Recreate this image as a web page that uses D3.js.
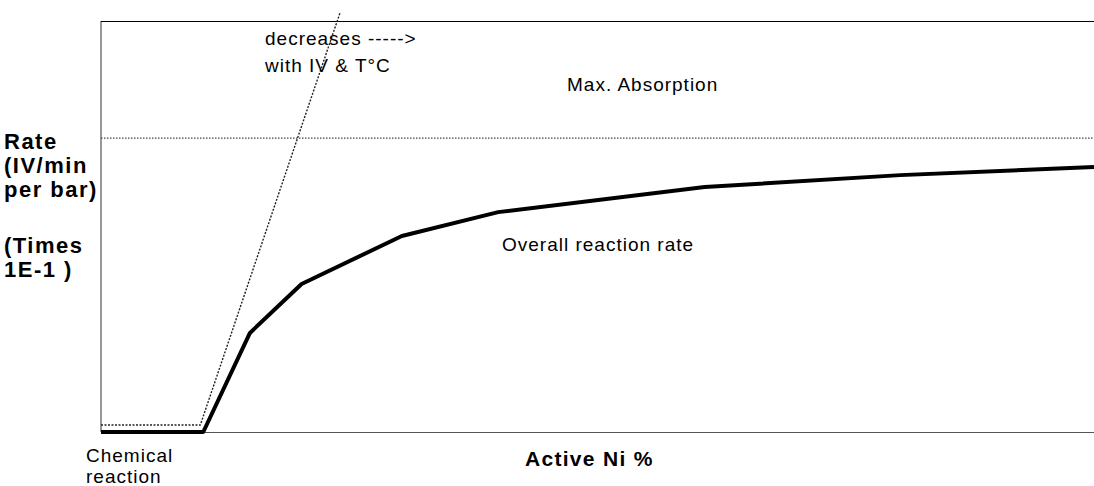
<!DOCTYPE html>
<html>
<head>
    <script src="https://d3js.org/d3.v7.min.js"></script>
    <style>
        body { margin: 0; background: #fff; }
        text { font-family: "Liberation Sans", Arial, sans-serif; fill: #000; }
    </style>
</head>
<body>
<div id="chart"></div>
<script>
    // overall reaction rate (Active Ni %, rate) - arbitrary units
    var rateX = [0, 10.3, 15, 20.2, 30.3, 40, 60.8, 80.5, 100];
    var rateY = [0, 0, 24.1, 36, 47.7, 53.5, 59.6, 62.5, 64.5];

    // chemical reaction limit (dotted)
    var chemX = [0, 10, 24.1];
    var chemY = [1.7, 1.7, 102.2];

    var maxAbsorption = 71.5;

    var yLabel = ["Rate", "(IV/min", "per bar)", "(Times", "1E-1 )"];
    var yLabelPos = [149, 173, 197, 253, 277];
    var xLabel = "Active Ni %";

    var width = 1094, height = 486;
    var margin = { top: 21, right: 0, bottom: 54, left: 101 };

    var svg = d3.select("#chart").append("svg")
        .attr("width", width)
        .attr("height", height);

    var x = d3.scaleLinear()
        .domain([0, 100])
        .range([margin.left, width - margin.right]);

    var y = d3.scaleLinear()
        .domain([0, 100])
        .range([height - margin.bottom, height - margin.bottom - 411]);

    // frame: left, top and bottom lines
    svg.append("line")
        .attr("x1", x(0)).attr("x2", x(0))
        .attr("y1", margin.top).attr("y2", y(0))
        .attr("stroke", "#333").attr("stroke-width", 1);
    svg.append("line")
        .attr("x1", x(0)).attr("x2", x(100))
        .attr("y1", margin.top + 0.5).attr("y2", margin.top + 0.5)
        .attr("stroke", "#000").attr("stroke-width", 1);
    svg.append("line")
        .attr("x1", x(0)).attr("x2", x(100))
        .attr("y1", y(0) + 0.5).attr("y2", y(0) + 0.5)
        .attr("stroke", "#555").attr("stroke-width", 1);

    // max absorption dotted line
    svg.append("line")
        .attr("x1", x(0)).attr("x2", x(100))
        .attr("y1", y(maxAbsorption)).attr("y2", y(maxAbsorption))
        .attr("stroke", "#444").attr("stroke-width", 1.2)
        .attr("stroke-dasharray", "1.5,1.5");

    var line = d3.line()
        .x(function (d) { return x(d[0]); })
        .y(function (d) { return y(d[1]); });

    // chemical reaction dotted line
    svg.append("path")
        .datum(d3.zip(chemX, chemY))
        .attr("d", line)
        .attr("fill", "none")
        .attr("stroke", "#222").attr("stroke-width", 1.4)
        .attr("stroke-dasharray", "2,1.5");

    // overall reaction rate
    svg.append("path")
        .datum(d3.zip(rateX, rateY))
        .attr("d", line)
        .attr("fill", "none")
        .attr("stroke", "#000").attr("stroke-width", 4)
        .attr("stroke-linejoin", "round");

    // annotations
    function note(t, px, py) {
        svg.append("text")
            .attr("x", px).attr("y", py)
            .style("font-size", "19px")
            .style("letter-spacing", "1px")
            .text(t);
    }
    note("decreases ----->", 265, 45);
    note("with IV & T°C", 265, 72);
    note("Max. Absorption", 567, 91);
    note("Overall reaction rate", 502, 251);
    note("Chemical", 86, 462);
    note("reaction", 86, 483);

    svg.append("text")
        .attr("x", 525).attr("y", 466)
        .style("font-size", "21px").style("font-weight", "bold")
        .style("letter-spacing", "1.3px")
        .text(xLabel);

    svg.append("g").selectAll("text")
        .data(yLabel)
        .enter().append("text")
        .attr("x", 4)
        .attr("y", function (d, i) { return yLabelPos[i]; })
        .style("font-size", "22px").style("font-weight", "bold")
        .style("letter-spacing", "1.5px")
        .text(function (d) { return d; });
</script>
</body>
</html>
